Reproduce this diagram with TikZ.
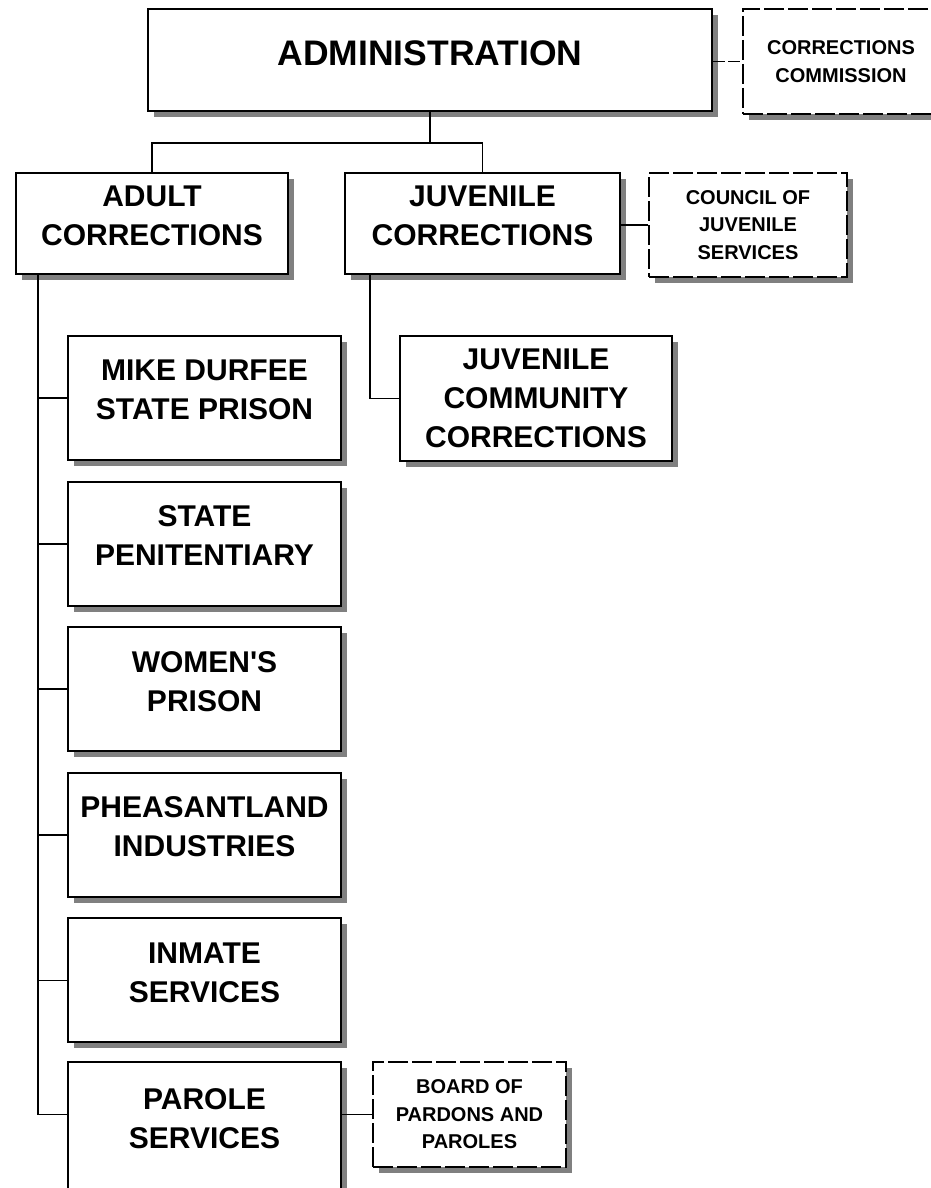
\documentclass[tikz,border=0pt]{standalone}
\usepackage{fontspec}
\setmainfont{Liberation Sans}
\usetikzlibrary{shadows}
\begin{document}
\begin{tikzpicture}[x=1pt,y=-1pt]
\tikzstyle{every node}+=[inner sep=0pt,align=center]
\tikzstyle{unit}=[draw,line width=2pt,fill=white,
  drop shadow={shadow xshift=6pt,shadow yshift=-6pt,fill=black!50,opacity=1},
  font=\fontsize{30}{39}\selectfont\bfseries]
\tikzstyle{twoline}=[unit,text depth=16pt]
\tikzstyle{sidebox}=[unit,dash pattern=on 20pt off 4pt,
  font=\fontsize{20}{27.5}\selectfont\bfseries]
\tikzstyle{link}=[line width=1.8pt]
\useasboundingbox (0,0) rectangle (930,1188);
% top level
\node [unit,text depth=13pt,minimum width=564pt,minimum height=102pt,font=\fontsize{35.5}{40}\selectfont\bfseries] (admin) at (430,60) {ADMINISTRATION};
\node [sidebox,minimum width=196pt,minimum height=105pt] (comm) at (841,61.5) {CORRECTIONS\\COMMISSION};
% divisions
\node [twoline,minimum width=272pt,minimum height=101pt] (adult) at (152,223.5) {ADULT\\CORRECTIONS};
\node [twoline,minimum width=275pt,minimum height=101pt] (juv) at (482.5,223.5) {JUVENILE\\CORRECTIONS};
\node [sidebox,minimum width=198pt,minimum height=104pt] (council) at (748,225) {COUNCIL OF\\JUVENILE\\SERVICES};
\node [unit,minimum width=272pt,minimum height=125pt] (jcc) at (536,398.5) {JUVENILE\\COMMUNITY\\CORRECTIONS};
% adult units
\node [twoline,minimum width=273pt,minimum height=124pt] (durfee) at (204.5,398) {MIKE DURFEE\\STATE PRISON};
\node [twoline,minimum width=273pt,minimum height=124pt] (pen) at (204.5,543.6) {STATE\\PENITENTIARY};
\node [twoline,minimum width=273pt,minimum height=124pt] (women) at (204.5,689.2) {WOMEN\textquotesingle S\\PRISON};
\node [twoline,minimum width=273pt,minimum height=124pt] (pheasant) at (204.5,834.8) {PHEASANTLAND\\INDUSTRIES};
\node [twoline,minimum width=273pt,minimum height=124pt] (inmate) at (204.5,980.4) {INMATE\\SERVICES};
\node [twoline,minimum width=273pt,minimum height=130pt] (parole) at (204.5,1127) {PAROLE\\SERVICES};
\node [sidebox,minimum width=193pt,minimum height=105pt] (board) at (469.5,1114.5) {BOARD OF\\PARDONS AND\\PAROLES};
% connectors
\coordinate (bus) at (430,143);
\coordinate (atrunk) at (38,274);
\coordinate (jtrunk) at (370,274);
\draw [link] (admin.south) -- (bus) -| (adult.north);
\draw [link] (bus) -| (juv.north);
\draw [link,dash pattern=on 12pt off 3pt] (admin.east |- comm.west) -- (comm.west);
\draw [link] (juv.east |- council.west) -- (council.west);
\draw [link] (jtrunk) |- (jcc.west);
\foreach \n in {durfee,pen,women,pheasant,inmate}
  \draw [link] (atrunk) |- (\n.west);
\draw [link] (atrunk) |- (parole.west |- board.west);
\draw [link] (parole.east |- board.west) -- (board.west);
\end{tikzpicture}
\end{document}
